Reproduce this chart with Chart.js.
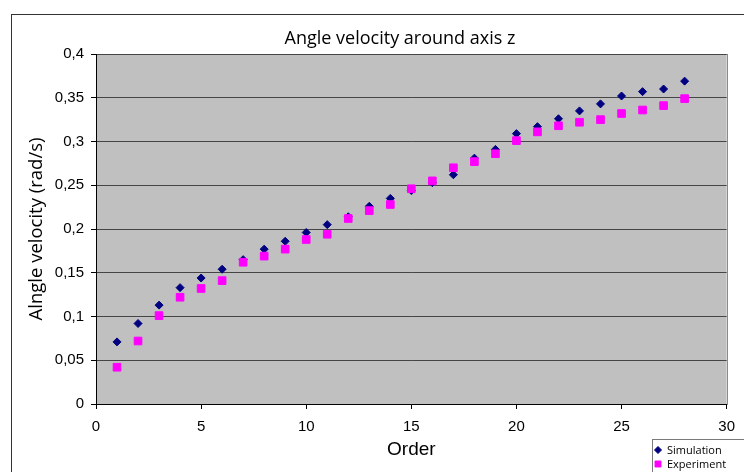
<!DOCTYPE html>
<html>
<head>
<meta charset="utf-8">
<script src="https://cdn.jsdelivr.net/npm/chart.js@4/dist/chart.umd.min.js"></script>
<style>
  html, body { margin: 0; padding: 0; background: #fff; }
  #c { display: block; }
</style>
</head>
<body>
<canvas id="c" width="744" height="472"></canvas>
<script>
const chartTitle = "Angle velocity around axis z";
const xTitle = "Order";
const yTitle = "Alngle velocity (rad/s)";
const seriesNames = ["Simulation", "Experiment"];
const order = [1,2,3,4,5,6,7,8,9,10,11,12,13,14,15,16,17,18,19,20,21,22,23,24,25,26,27,28];
const simulation = [0.071,0.092,0.113,0.133,0.144,0.154,0.165,0.177,0.186,0.196,0.205,0.214,0.226,0.235,0.244,0.253,0.262,0.281,0.291,0.309,0.317,0.326,0.335,0.343,0.352,0.357,0.360,0.369];
const experiment = [0.042,0.072,0.101,0.122,0.132,0.141,0.162,0.169,0.177,0.188,0.194,0.212,0.221,0.228,0.246,0.255,0.270,0.277,0.286,0.301,0.311,0.318,0.322,0.325,0.332,0.336,0.341,0.349];
const xMin = 0, xMax = 30, xStep = 5;
const yMin = 0, yMax = 0.4, yStep = 0.05;

const toPts = (ys) => order.map((x, i) => ({ x: x, y: ys[i] }));
const fmt = (v) => String(Math.round(v * 100) / 100).replace('.', ',');

const decorPlugin = {
  id: 'decor',
  beforeDraw(chart) {
    const { ctx, chartArea: a } = chart;
    ctx.save();
    ctx.fillStyle = '#ffffff';
    ctx.fillRect(0, 0, chart.width, chart.height);
    ctx.fillStyle = '#c0c0c0';
    ctx.fillRect(a.left, a.top, a.right - a.left, a.bottom - a.top);
    ctx.strokeStyle = '#8a8a8a';
    ctx.lineWidth = 1;
    ctx.strokeRect(Math.round(a.left) + 0.5, Math.round(a.top) + 0.5, Math.round(a.right - a.left), Math.round(a.bottom - a.top));
    ctx.restore();
  },
  afterDraw(chart) {
    const { ctx } = chart;
    ctx.save();
    // outer chart border
    ctx.strokeStyle = '#333333';
    ctx.lineWidth = 1;
    ctx.strokeRect(11.5, 14.5, 800, 600);
    // title
    ctx.fillStyle = '#000000';
    ctx.font = '18px "Open Sans"';
    ctx.textAlign = 'center';
    ctx.textBaseline = 'alphabetic';
    ctx.fillText(chartTitle, 400, 44);
    // legend box
    ctx.fillStyle = '#ffffff';
    ctx.fillRect(652, 439, 120, 60);
    ctx.strokeStyle = '#7a7a7a';
    ctx.strokeRect(652.5, 439.5, 120, 60);
    ctx.font = '11px "Open Sans"';
    ctx.textAlign = 'left';
    ctx.textBaseline = 'middle';
    chart.data.datasets.forEach((ds, i) => {
      const y = 450 + i * 14;
      ctx.fillStyle = ds.backgroundColor;
      ctx.strokeStyle = ds.borderColor;
      ctx.lineWidth = 1;
      Chart.helpers.drawPoint(ctx, {
        pointStyle: ds.pointStyle,
        radius: ds.pointStyle === 'rect' ? 4.2 : 3.5,
        borderWidth: 1,
        rotation: 0
      }, 658, y);
      ctx.fillStyle = '#000000';
      ctx.fillText(ds.label, 667, y + 0.5);
    });
    ctx.restore();
  }
};

new Chart(document.getElementById('c'), {
  type: 'scatter',
  data: {
    datasets: [
      {
        label: seriesNames[0],
        data: toPts(simulation),
        pointStyle: 'rectRot',
        pointRadius: 4,
        pointBorderWidth: 1,
        backgroundColor: '#000080',
        borderColor: '#000080',
        showLine: false,
        order: 2
      },
      {
        label: seriesNames[1],
        data: toPts(experiment),
        pointStyle: 'rect',
        pointRadius: 5.4,
        pointBorderWidth: 1,
        backgroundColor: '#ff00ff',
        borderColor: '#ff00ff',
        showLine: false,
        order: 1
      }
    ]
  },
  options: {
    responsive: false,
    animation: false,
    layout: { padding: { left: 0, top: 54, right: 16, bottom: 0 } },
    plugins: {
      legend: { display: false },
      title: { display: false },
      tooltip: { enabled: false }
    },
    scales: {
      x: {
        type: 'linear',
        min: xMin, max: xMax,
        afterFit(scale) { scale.height = 68; },
        ticks: {
          stepSize: xStep,
          color: '#000000',
          font: { family: '"Liberation Sans", Arial, sans-serif', size: 15 },
          padding: 9,
          maxRotation: 0
        },
        grid: { drawOnChartArea: false, drawTicks: true, tickLength: 5, tickColor: '#000000' },
        border: { display: true, color: '#000000', width: 1 },
        title: {
          display: true,
          text: xTitle,
          color: '#000000',
          font: { family: '"Liberation Sans", Arial, sans-serif', size: 19 },
          padding: { top: 0, bottom: 11 }
        }
      },
      y: {
        type: 'linear',
        min: yMin, max: yMax,
        afterFit(scale) { scale.width = 96; },
        ticks: {
          stepSize: yStep,
          color: '#000000',
          font: { family: '"Liberation Sans", Arial, sans-serif', size: 15 },
          padding: 7,
          callback: (v) => fmt(v)
        },
        grid: { color: '#454545', lineWidth: 1, drawTicks: true, tickLength: 5, tickColor: '#000000' },
        border: { display: true, color: '#000000', width: 1 },
        title: {
          display: true,
          text: yTitle,
          color: '#000000',
          font: { family: '"Open Sans", sans-serif', size: 18.5 },
          padding: { top: 26, bottom: 0 }
        }
      }
    }
  },
  plugins: [decorPlugin]
});
</script>
</body>
</html>
